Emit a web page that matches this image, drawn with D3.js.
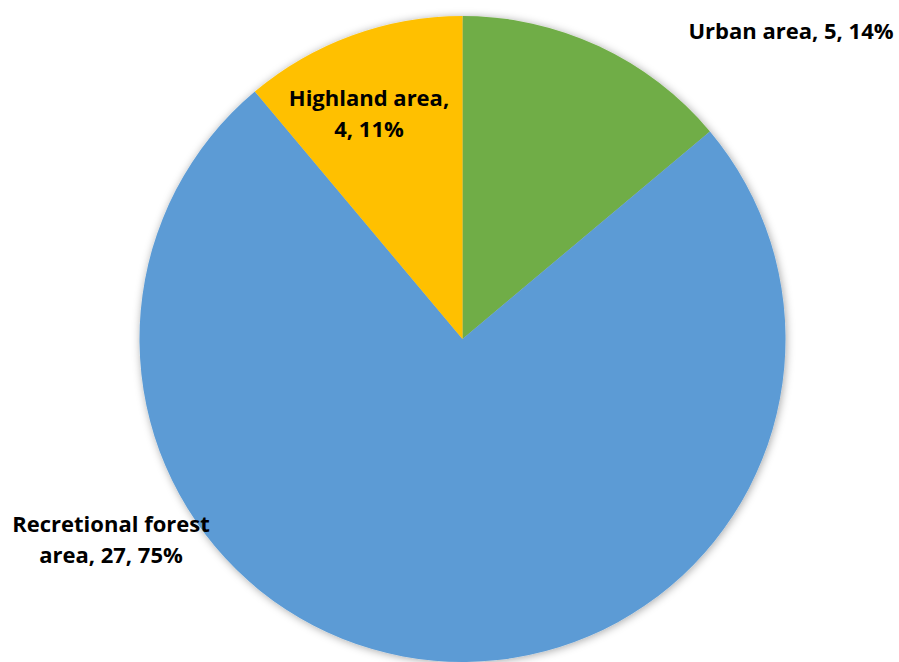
<!DOCTYPE html>
<html>
  <head>
    <meta charset="utf-8">
    <title>Land use pie</title>
    <script type="text/javascript" src="https://d3js.org/d3.v7.min.js"></script>
    <style>
      body { margin: 0; background: #fff; }
      text { font-family: "Open Sans", Lato, sans-serif; font-weight: bold; fill: #000; }
    </style>
  </head>
  <body>
    <div id="chart"></div>
    <script type="text/javascript">
      var categories = ["Urban area", "Recretional forest area", "Highland area"];
      var values = [5, 27, 4];
      var colors = ["#70AD47", "#5B9BD5", "#FFC000"];
      // label lines as shown in the chart
      var labelLines = [
        ["Urban area, 5, 14%"],
        ["Recretional forest", "area, 27, 75%"],
        ["Highland area,", "4, 11%"]
      ];

      var width = 899, height = 662;
      var cx = 462.5, cy = 339, radius = 323;

      var svg = d3.select("#chart").append("svg")
          .attr("width", width)
          .attr("height", height);

      var defs = svg.append("defs");
      var f = defs.append("filter").attr("id", "shadow")
          .attr("x", "-10%").attr("y", "-10%").attr("width", "120%").attr("height", "120%");
      f.append("feDropShadow")
          .attr("dx", 1).attr("dy", 1)
          .attr("stdDeviation", 4)
          .attr("flood-color", "#000")
          .attr("flood-opacity", 0.35);

      var pie = d3.pie().sort(null).value(function(d){ return d; });
      var arcs = pie(values);
      var arc = d3.arc().innerRadius(0).outerRadius(radius);

      var g = svg.append("g").attr("transform", "translate(" + cx + "," + cy + ")");
      g.append("g").attr("filter", "url(#shadow)")
        .selectAll("path")
        .data(arcs)
        .enter()
        .append("path")
          .attr("d", arc)
          .attr("fill", function(d, i){ return colors[i]; });

      // label anchor points (center of first line baseline), relative to pie
      var labelPos = [
        [791 - cx, 39 - cy],
        [111 - cx, 532 - cy],
        [369 - cx, 106 - cy]
      ];
      var lineH = 31;

      var labels = g.selectAll("text.lbl")
        .data(arcs)
        .enter()
        .append("text")
          .attr("class", "lbl")
          .attr("text-anchor", "middle")
          .style("font-size", "22px")
          .attr("transform", function(d, i){
            return "translate(" + labelPos[i][0] + "," + labelPos[i][1] + ")";
          });

      labels.each(function(d, i){
        var t = d3.select(this);
        labelLines[i].forEach(function(line, j){
          t.append("tspan").attr("x", 0).attr("y", j * lineH).text(line);
        });
      });
    </script>
  </body>
</html>
